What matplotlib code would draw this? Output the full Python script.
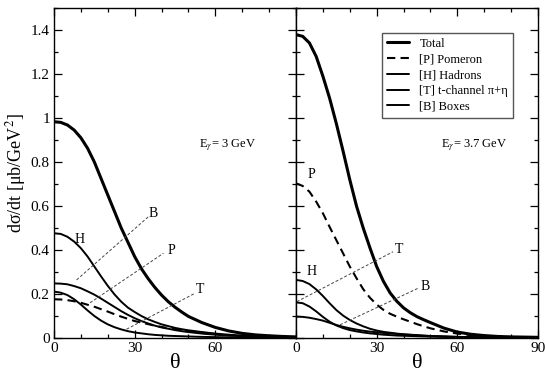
import matplotlib
matplotlib.use("Agg")
import matplotlib.pyplot as plt
from matplotlib.ticker import MultipleLocator

plt.rcParams['font.family'] = ['Liberation Serif', 'DejaVu Serif']
plt.rcParams['mathtext.fontset'] = 'stix'

theta = [0, 2.5, 5, 7.5, 10, 12.5, 15, 17.5, 20, 22.5, 25, 27.5, 30, 32.5, 35,
         37.5, 40, 42.5, 45, 47.5, 50, 55, 60, 65, 70, 75, 80, 85, 90]

# E_gamma = 3 GeV
total_3 = [0.983, 0.98, 0.968, 0.945, 0.91, 0.862, 0.80, 0.725, 0.65, 0.575, 0.50, 0.435, 0.37, 0.315, 0.27,
           0.23, 0.195, 0.165, 0.14, 0.118, 0.098, 0.07, 0.048, 0.032, 0.021, 0.014, 0.01, 0.007, 0.005]
pom_3 = [0.176, 0.175, 0.172, 0.167, 0.16, 0.151, 0.142, 0.131, 0.12, 0.108, 0.097, 0.087, 0.077, 0.07, 0.063,
         0.056, 0.05, 0.045, 0.04, 0.035, 0.031, 0.024, 0.018, 0.013, 0.01, 0.007, 0.005, 0.004, 0.003]
had_3 = [0.476, 0.473, 0.46, 0.438, 0.408, 0.37, 0.325, 0.28, 0.237, 0.198, 0.165, 0.138, 0.118, 0.1, 0.085,
         0.073, 0.062, 0.054, 0.046, 0.04, 0.035, 0.027, 0.02, 0.015, 0.011, 0.008, 0.006, 0.004, 0.003]
tch_3 = [0.211, 0.206, 0.195, 0.176, 0.152, 0.125, 0.1, 0.079, 0.062, 0.049, 0.039, 0.031, 0.025, 0.021, 0.017,
         0.014, 0.012, 0.01, 0.009, 0.008, 0.007, 0.005, 0.004, 0.003, 0.002, 0.002, 0.001, 0.001, 0.001]
box_3 = [0.248, 0.247, 0.244, 0.236, 0.226, 0.212, 0.197, 0.179, 0.16, 0.141, 0.122, 0.105, 0.09, 0.077, 0.066,
         0.056, 0.048, 0.042, 0.036, 0.031, 0.027, 0.02, 0.015, 0.011, 0.008, 0.006, 0.004, 0.003, 0.002]

# E_gamma = 3.7 GeV
total_37 = [1.379, 1.371, 1.341, 1.28, 1.19, 1.09, 0.975, 0.85, 0.72, 0.6, 0.5, 0.41, 0.325, 0.258, 0.205,
            0.167, 0.137, 0.115, 0.097, 0.083, 0.07, 0.045, 0.027, 0.017, 0.011, 0.007, 0.005, 0.004, 0.003]
pom_37 = [0.703, 0.691, 0.665, 0.62, 0.567, 0.505, 0.445, 0.385, 0.325, 0.272, 0.222, 0.183, 0.152, 0.128, 0.11,
          0.097, 0.085, 0.074, 0.063, 0.053, 0.044, 0.03, 0.02, 0.013, 0.009, 0.006, 0.004, 0.003, 0.002]
had_37 = [0.264, 0.259, 0.245, 0.221, 0.191, 0.158, 0.127, 0.102, 0.082, 0.066, 0.053, 0.042, 0.034, 0.028, 0.024,
          0.02, 0.017, 0.015, 0.013, 0.011, 0.009, 0.007, 0.005, 0.004, 0.003, 0.002, 0.002, 0.001, 0.001]
tch_37 = [0.162, 0.158, 0.143, 0.121, 0.096, 0.074, 0.057, 0.045, 0.036, 0.03, 0.025, 0.021, 0.018, 0.015, 0.013,
          0.011, 0.01, 0.009, 0.008, 0.007, 0.006, 0.005, 0.004, 0.003, 0.002, 0.002, 0.001, 0.001, 0.001]
box_37 = [0.097, 0.096, 0.092, 0.086, 0.079, 0.069, 0.059, 0.051, 0.044, 0.038, 0.033, 0.029, 0.026, 0.023, 0.021,
          0.018, 0.016, 0.014, 0.012, 0.01, 0.009, 0.007, 0.005, 0.004, 0.003, 0.002, 0.002, 0.001, 0.001]

# curve labels: (text, line start, line end, text position)
labels_3 = [('B', (8.4, 0.264), (35.1, 0.551), (36.9, 0.567)),
            ('P', (13.4, 0.16), (40.7, 0.385), (43.8, 0.397)),
            ('T', (27.0, 0.040), (52.4, 0.203), (54.3, 0.221)),
            ('H', None, None, (9.7, 0.449))]
labels_37 = [('P', None, None, (5.8, 0.741)),
             ('H', None, None, (5.8, 0.301)),
             ('T', (0.3, 0.165), (36.1, 0.392), (38.3, 0.40)),
             ('B', (16.4, 0.060), (45.4, 0.226), (47.9, 0.233))]

legend_names = ['Total', '[P] Pomeron', '[H] Hadrons', '[T] t-channel π+η', '[B] Boxes']

fig = plt.figure(figsize=(5.45, 3.76), dpi=100)
ax1 = fig.add_axes([0.0991, 0.1011, 0.444, 0.8777])
ax2 = fig.add_axes([0.5431, 0.1011, 0.444, 0.8777])


def draw_panel(ax, tot, pom, had, tch, box, labels, energy):
    kw = dict(color='black', solid_joinstyle='round', solid_capstyle='round')
    ax.plot(theta, tot, lw=2.2, label=legend_names[0], **kw)
    ax.plot(theta, pom, color='black', lw=1.5, ls=(0, (4, 2.5)), label=legend_names[1])
    ax.plot(theta, had, lw=1.4, label=legend_names[2], **kw)
    ax.plot(theta, tch, lw=1.4, label=legend_names[3], **kw)
    ax.plot(theta, box, lw=1.4, label=legend_names[4], **kw)
    for txt, p0, p1, pt in labels:
        if p0 is not None:
            ax.plot([p0[0], p1[0]], [p0[1], p1[1]], color='#444444', lw=0.7,
                    ls=(0, (3, 2)))
        ax.text(pt[0], pt[1], txt, fontsize=10, ha='center', va='center')
    ax.text(54, 0.875, r'E$_\gamma$= ' + energy + ' GeV', fontsize=9,
            ha='left', va='center')
    ax.set_xlim(0, 90)
    ax.set_ylim(0, 1.5)
    ax.xaxis.set_major_locator(MultipleLocator(30))
    ax.xaxis.set_minor_locator(MultipleLocator(10))
    ax.yaxis.set_major_locator(MultipleLocator(0.2))
    ax.yaxis.set_minor_locator(MultipleLocator(0.1))
    ax.tick_params(which='both', direction='in', top=True, right=True,
                   labelsize=11, width=0.9)
    ax.tick_params(which='major', length=6, pad=3)
    ax.tick_params(which='minor', length=3)
    ax.set_xlabel('θ', fontsize=16, labelpad=-1)
    for s in ax.spines.values():
        s.set_linewidth(1.0)


draw_panel(ax1, total_3, pom_3, had_3, tch_3, box_3, labels_3, '3')
draw_panel(ax2, total_37, pom_37, had_37, tch_37, box_37, labels_37, '3.7')

ax1.set_xticks([0, 30, 60])
ax1.set_yticks([0, 0.2, 0.4, 0.6, 0.8, 1.0, 1.2, 1.4])
ax1.set_yticklabels(['0', '0.2', '0.4', '0.6', '0.8', '1', '1.2', '1.4'])
ax1.set_ylabel('dσ/dt [μb/GeV$^2$]', fontsize=13, labelpad=2)
ax2.set_xticks([0, 30, 60, 90])
ax2.tick_params(labelleft=False)

leg = ax2.legend(loc='upper left', bbox_to_anchor=(0.355, 0.925), fontsize=9,
                 handlelength=1.8, handletextpad=0.8, labelspacing=0.3,
                 borderpad=0.4, borderaxespad=0, fancybox=False, framealpha=1)
leg.get_frame().set_edgecolor('#555555')
leg.get_frame().set_linewidth(1.0)

fig.savefig('out.png', dpi=100)
